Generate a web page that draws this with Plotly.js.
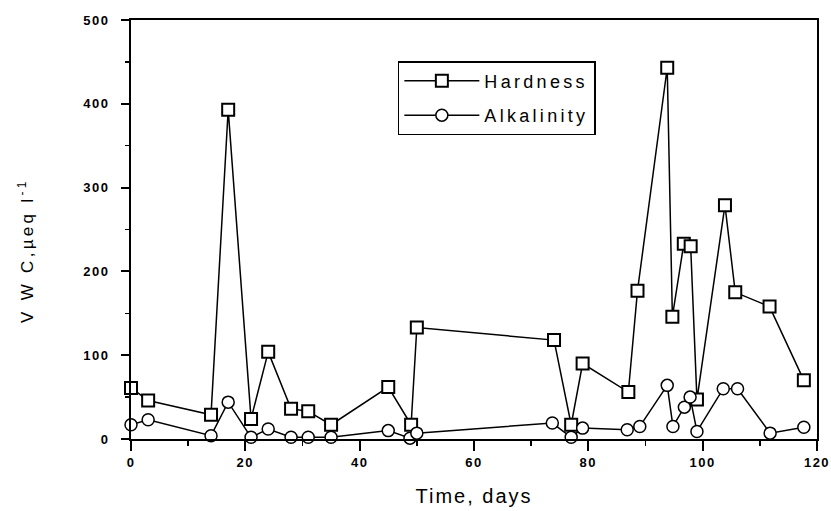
<!DOCTYPE html>
<html>
<head>
<meta charset="utf-8">
<script src="https://cdn.plot.ly/plotly-3.0.1.min.js"></script>
<style>
  html, body { margin: 0; padding: 0; background: #fff; }
  #chart { width: 831px; height: 511px; }
  .legendtext { letter-spacing: 3.3px; }
  .xtitle { letter-spacing: 2px; }
  .annotation-text { letter-spacing: 3.3px; }
  .xtick text, .ytick text { letter-spacing: 1.5px; }
</style>
</head>
<body>
<div id="chart"></div>
<script>
// Hardness series
const hardnessDays = [0, 3, 14, 17, 21, 24, 28, 31, 35, 45, 49, 50, 74, 77, 79, 87, 88.6, 93.8, 94.7, 96.7, 97.9, 99, 103.9, 105.7, 111.7, 117.7];
const hardnessValues = [61, 46, 29, 393, 24, 104, 36, 33, 17, 62, 17, 133, 118, 17, 90, 56, 177, 443, 146, 233, 230, 47, 279, 175, 158, 70];

// Alkalinity series
const alkalinityDays = [0, 3, 14, 17, 21, 24, 28, 31, 35, 45, 48.8, 50, 73.7, 77, 79, 86.8, 89, 93.8, 94.8, 96.8, 97.8, 99, 103.6, 106.1, 111.8, 117.7];
const alkalinityValues = [17, 23, 4, 44, 2, 12, 2, 2, 2, 10, 1, 7, 19, 2, 13, 11, 15, 64, 15, 38, 50, 9, 60, 60, 7, 14];

const seriesNames = ["Hardness", "Alkalinity"];
const xTickVals = [0, 20, 40, 60, 80, 100, 120];
const yTickVals = [0, 100, 200, 300, 400, 500];
const xTitle = "Time, days";
const yTitle = "V W C,\u00b5eq l<sup>-1</sup>";

const traces = [
  {
    x: hardnessDays, y: hardnessValues, name: seriesNames[0],
    type: "scatter", mode: "lines+markers", legendgroup: "h",
    line: { color: "#000", width: 1.5 },
    marker: { symbol: "square", size: 12, color: "#fff", line: { color: "#000", width: 2 } },
    cliponaxis: false
  },
  {
    x: alkalinityDays, y: alkalinityValues, name: seriesNames[1],
    type: "scatter", mode: "lines+markers", legendgroup: "a",
    line: { color: "#000", width: 1.5 },
    marker: { symbol: "circle", size: 12, color: "#fff", line: { color: "#000", width: 1.5 } },
    cliponaxis: false
  }
];

const tickFont = { family: "Liberation Sans, Arial, sans-serif", size: 13, color: "#000", weight: "bold" };

const layout = {
  width: 831, height: 511,
  margin: { l: 131, r: 14, t: 20, b: 72, pad: 0 },
  paper_bgcolor: "#fff", plot_bgcolor: "#fff",
  showlegend: true,
  legend: {
    x: 0.389, y: 0.902, xanchor: "left", yanchor: "top",
    bgcolor: "#fff", bordercolor: "#000", borderwidth: 1.5,
    font: { family: "Liberation Sans, Arial, sans-serif", size: 18, color: "#000" },
    itemwidth: 75, tracegroupgap: 8
  },
  xaxis: {
    range: [0, 120], tickvals: xTickVals, ticktext: xTickVals.map(String),
    ticks: "outside", ticklen: 10, tickwidth: 2, tickcolor: "#000",
    minor: { ticks: "outside", ticklen: 5, tickwidth: 1.5, tickcolor: "#000", dtick: 10, tick0: 0, showgrid: false },
    showline: true, linecolor: "#000", linewidth: 2, mirror: true,
    showgrid: false, zeroline: false,
    tickfont: tickFont,
    title: { text: xTitle, font: { family: "Liberation Sans, Arial, sans-serif", size: 20, color: "#000" }, standoff: 20 }
  },
  yaxis: {
    range: [0, 500], tickvals: yTickVals, ticktext: yTickVals.map(String),
    ticks: "outside", ticklen: 8, tickwidth: 2, tickcolor: "#000",
    minor: { ticks: "outside", ticklen: 4, tickwidth: 1.5, tickcolor: "#000", dtick: 50, tick0: 0, showgrid: false },
    showline: true, linecolor: "#000", linewidth: 2, mirror: true,
    showgrid: false, zeroline: false,
    tickfont: tickFont, ticklabelstandoff: 9
  },
  annotations: [
    {
      text: yTitle, xref: "paper", yref: "paper", x: -0.153, y: 0.449,
      xanchor: "center", yanchor: "middle", textangle: -90, showarrow: false,
      font: { family: "Liberation Sans, Arial, sans-serif", size: 17, color: "#000" }
    }
  ]
};

Plotly.newPlot("chart", traces, layout, { displayModeBar: false, staticPlot: true });
</script>
</body>
</html>
